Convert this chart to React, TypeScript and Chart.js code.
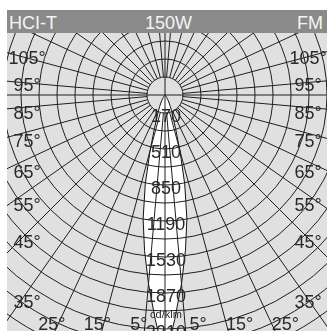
import React, { useEffect, useRef } from 'react';
import { Chart, registerables } from 'chart.js';

Chart.register(...registerables);

// ---- text ----
const HEADER_LEFT = 'HCI-T';
const HEADER_CENTER = '150W';
const HEADER_RIGHT = 'FM';
const UNIT_LABEL = 'cd/klm';

// ---- luminous intensity (cd/klm) vs. gamma angle (deg), symmetric distribution ----
const GAMMA = [0, 2.5, 5, 7.5, 10, 12.5, 15, 17.5, 20, 22.5, 25, 27.5, 30, 32.5, 35, 37.5, 40, 42.5, 45, 47.5];
const INTENSITY = [2500, 2120, 1790, 1480, 1190, 860, 545, 330, 220, 160, 120, 85, 60, 42, 30, 20, 12, 6, 3, 0];

// ---- scale ----
const RING_STEP = 170;
const RING_MAX = 2890;
const RING_LABELS = [170, 510, 850, 1190, 1530, 1870, 2210];
const ANGLE_STEP = 2.5;
const SIDE_ANGLE_LABELS = [105, 95, 85, 75, 65, 55, 45, 35];
const BOTTOM_ANGLE_LABELS = [25, 15, 5];

// ---- layout / style ----
const CANVAS = 612;
const CENTER_X = 165;
const CENTER_Y = 95;
const BOX_LEFT = 7;
const BOX_TOP = 10;
const BOX_W = 320;
const BOX_H = 321;
const BG = '#e0e0e0';
const BANNER = '#8a8a8a';
const LINE = '#1e1e1e';
const TEXT = '#2a2a2a';
const FONT = '"Liberation Sans", Arial, Helvetica, sans-serif';
const SIDE_NUDGE: Record<number, number> = { 105: 2, 95: 3, 85: 7, 75: 9, 65: 12, 55: 12, 45: 7, 35: 7 };

const ANGLES: number[] = [];
for (let a = 0; a < 360; a += ANGLE_STEP) ANGLES.push(a);
const FULL_DATA = ANGLES.map((a) => {
  const g = a <= 180 ? a : 360 - a;
  const k = GAMMA.indexOf(g);
  return k >= 0 ? INTENSITY[k] : 0;
});

const isCross = (i: number) => ANGLES[i] % 90 === 0;

const overlay = {
  id: 'polarOverlay',
  afterDraw(chart: any) {
    const s = chart.scales.r;
    const ctx = chart.ctx as CanvasRenderingContext2D;
    ctx.save();
    // radial lines at odd multiples of 5 degrees, from the first ring outwards
    ctx.strokeStyle = LINE;
    ctx.lineWidth = 1;
    const r0 = s.getDistanceFromCenterForValue(RING_STEP);
    const r1 = s.drawingArea;
    ANGLES.forEach((a, i) => {
      if (a % 10 === 5) {
        const p = s.getPointPosition(i, r0);
        const q = s.getPointPosition(i, r1);
        ctx.beginPath();
        ctx.moveTo(p.x, p.y);
        ctx.lineTo(q.x, q.y);
        ctx.stroke();
      }
    });
    // intensity labels
    ctx.fillStyle = TEXT;
    ctx.textAlign = 'center';
    ctx.textBaseline = 'middle';
    ctx.font = `18px ${FONT}`;
    RING_LABELS.forEach((v) => {
      ctx.fillText(String(v), s.xCenter + 1, s.yCenter + s.getDistanceFromCenterForValue(v) + 4);
    });
    ctx.font = `11px ${FONT}`;
    ctx.fillText(UNIT_LABEL, s.xCenter + 1, s.yCenter + s.getDistanceFromCenterForValue((RING_LABELS[5] + RING_LABELS[6]) / 2) + 4);
    // angle labels
    ctx.font = `18px ${FONT}`;
    const rad = Math.PI / 180;
    SIDE_ANGLE_LABELS.forEach((a) => {
      const y = s.yCenter + 141 / Math.tan(a * rad) + (SIDE_NUDGE[a] || 0);
      ctx.fillText(`${a}°`, s.xCenter - 138, y);
      ctx.fillText(`${a}°`, s.xCenter + 143, y);
    });
    BOTTOM_ANGLE_LABELS.forEach((a) => {
      const dx = 230 * Math.tan(a * rad);
      const y = s.yCenter + 230;
      ctx.fillText(`${a}°`, s.xCenter - dx - 6, y);
      ctx.fillText(`${a}°`, s.xCenter + dx + 13, y);
    });
    ctx.restore();
  },
};

export default function App() {
  const ref = useRef<HTMLCanvasElement>(null);
  useEffect(() => {
    const chart = new Chart(ref.current as HTMLCanvasElement, {
      type: 'radar',
      data: {
        labels: ANGLES.map((a) => `${a}°`),
        datasets: [
          {
            data: FULL_DATA,
            backgroundColor: '#ffffff',
            borderColor: '#111111',
            borderWidth: 1,
            pointRadius: 0,
            fill: true,
            tension: 0,
          },
        ],
      },
      options: {
        animation: false,
        responsive: false,
        maintainAspectRatio: false,
        layout: { padding: 0 },
        plugins: { legend: { display: false }, tooltip: { enabled: false } },
        scales: {
          r: {
            startAngle: 180,
            min: 0,
            max: RING_MAX,
            ticks: { display: false, stepSize: RING_STEP },
            pointLabels: { display: false },
            grid: { circular: true, color: LINE, lineWidth: 1, z: 1 },
            angleLines: {
              display: true,
              color: (c: any) => (isCross(c.index) ? LINE : 'rgba(0,0,0,0)'),
              lineWidth: (c: any) => (isCross(c.index) ? 1 : 0),
            },
          },
        },
      } as any,
      plugins: [overlay],
    });
    return () => chart.destroy();
  }, []);

  return (
    <div
      style={{
        position: 'absolute',
        left: BOX_LEFT,
        top: BOX_TOP,
        width: BOX_W,
        height: BOX_H,
        overflow: 'hidden',
        background: BG,
      }}
    >
      <canvas
        ref={ref}
        width={CANVAS}
        height={CANVAS}
        style={{
          position: 'absolute',
          left: CENTER_X - CANVAS / 2 - BOX_LEFT,
          top: CENTER_Y - CANVAS / 2 - BOX_TOP,
          width: CANVAS,
          height: CANVAS,
        }}
      />
      <div
        style={{
          position: 'absolute',
          left: 0,
          top: 0,
          width: BOX_W,
          height: 23,
          background: BANNER,
          color: '#f4f4f4',
          fontFamily: FONT,
          fontSize: 18,
        }}
      >
        <span style={{ position: 'absolute', left: 2, top: 3, lineHeight: '20px' }}>{HEADER_LEFT}</span>
        <span style={{ position: 'absolute', left: 138, top: 3, lineHeight: '20px' }}>{HEADER_CENTER}</span>
        <span style={{ position: 'absolute', right: 4, top: 3, lineHeight: '20px' }}>{HEADER_RIGHT}</span>
      </div>
    </div>
  );
}
